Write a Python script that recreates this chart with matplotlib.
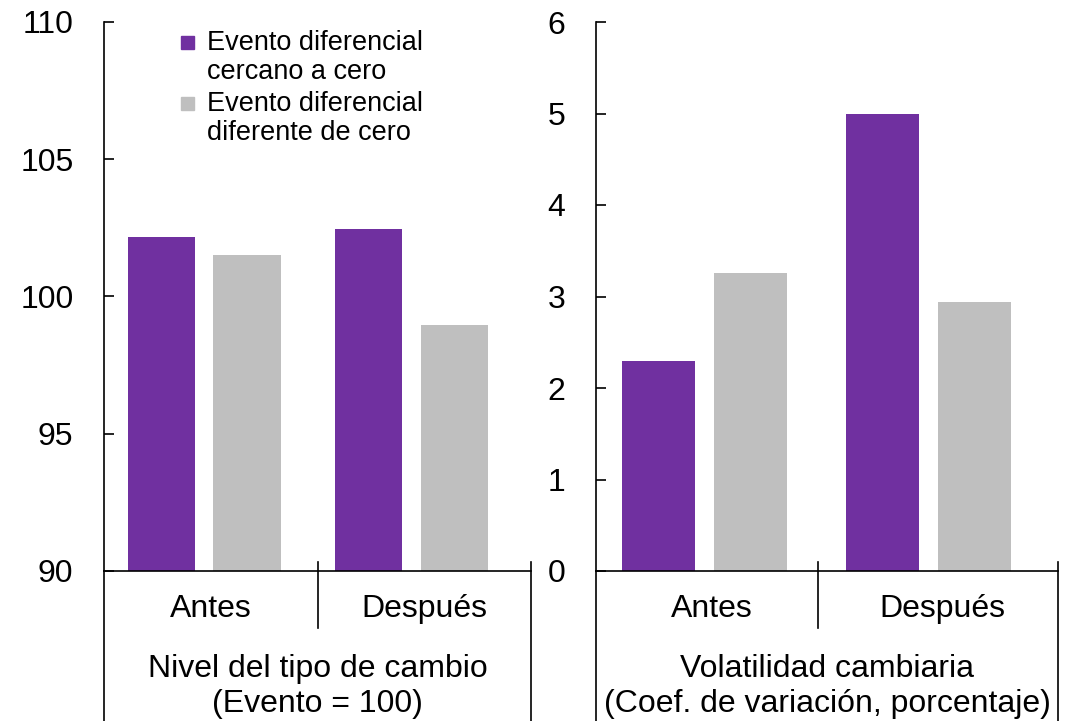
import numpy as np
import matplotlib
matplotlib.use("Agg")
import matplotlib.pyplot as plt
import matplotlib.transforms as mtransforms
from matplotlib.patches import Rectangle

plt.rcParams['font.family'] = ['Liberation Sans', 'DejaVu Sans']

# data
categories = ["Antes", "Después"]
series_names = ["Evento diferencial\ncercano a cero",
                "Evento diferencial\ndiferente de cero"]
nivel_cercano = [102.15, 102.45]
nivel_diferente = [101.5, 98.95]
vol_cercano = [2.30, 4.99]
vol_diferente = [3.26, 2.94]
titles = ["Nivel del tipo de cambio\n(Evento = 100)",
          "Volatilidad cambiaria\n(Coef. de variación, porcentaje)"]

purple = "#7030A0"
grey = "#BFBFBF"

fig = plt.figure(figsize=(10.71, 7.21), dpi=100)
ax1 = fig.add_axes([104/1071, 1-571/721, 427/1071, 549/721])
ax2 = fig.add_axes([596/1071, 1-571/721, 462/1071, 549/721])

x = np.arange(len(categories))
pos_a = x + np.array([-0.23, -0.26])
pos_b = x + np.array([0.17, 0.14])
width = 0.315


def draw_panel(ax, vals_a, vals_b, ylim, yticks, title, sep):
    ax.bar(pos_a, vals_a, width, color=purple, zorder=2)
    ax.bar(pos_b, vals_b, width, color=grey, zorder=2)
    ax.set_xlim(-0.5, 1.5)
    ax.set_ylim(*ylim)
    ax.set_yticks(yticks)
    ax.set_xticks([])
    for s in ['top', 'right']:
        ax.spines[s].set_visible(False)
    for s in ['left', 'bottom']:
        ax.spines[s].set_linewidth(1.2)
    ax.tick_params(axis='y', direction='in', length=7, width=1.2,
                   pad=22, labelsize=23)
    # extra frame lines below the axis
    t = ax.transAxes
    ax.plot([0, 0], [0, -0.28], transform=t, color='black', lw=1.2, clip_on=False)
    ax.plot([1, 1], [0.016, -0.28], transform=t, color='black', lw=1.2, clip_on=False)
    bt = mtransforms.blended_transform_factory(ax.transData, ax.transAxes)
    ax.plot([sep, sep], [0.016, -0.104], transform=bt, color='black', lw=1.2,
            clip_on=False)
    for xi, c in zip(x, categories):
        ax.text(xi, -0.069, c, transform=bt, ha='center', va='center',
                fontsize=23)
    ax.text(0.5, -0.21, title, transform=t, ha='center', va='center',
            fontsize=23, linespacing=1.2)


draw_panel(ax1, nivel_cercano, nivel_diferente, (90, 110),
           [90, 95, 100, 105, 110], titles[0], 0.5)
draw_panel(ax2, vol_cercano, vol_diferente, (0, 6),
           [0, 1, 2, 3, 4, 5, 6], titles[1], 0.46)

# legend drawn by hand (square markers + two-line labels)
for yy, col, lab in zip([0.962, 0.851], [purple, grey], series_names):
    ax1.add_patch(Rectangle((0.180, yy - 0.012), 0.030, 0.024,
                            transform=ax1.transAxes, color=col, clip_on=False))
    ax1.text(0.241, yy + 0.024, lab, transform=ax1.transAxes, ha='left',
             va='top', fontsize=19.5, linespacing=1.15)

fig.savefig("out.png", dpi=100)
